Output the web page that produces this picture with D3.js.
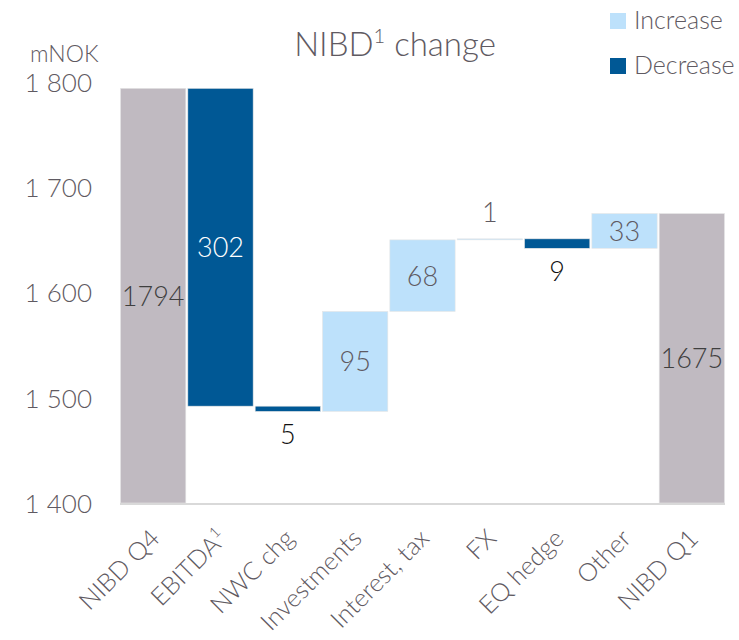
<!DOCTYPE html>
<html>
<head>
<meta charset="utf-8">
<script src="https://cdn.jsdelivr.net/npm/d3@7"></script>
<style>
  body { margin: 0; background: #fff; }
  text { font-family: "Lato", "Open Sans", sans-serif; font-weight: 300; }
</style>
</head>
<body>
<div id="chart"></div>
<script>
// waterfall data
const categories = ["NIBD Q4", "EBITDA", "NWC chg", "Investments", "Interest, tax", "FX", "EQ hedge", "Other", "NIBD Q1"];
const changes = [1794, -302, -5, 95, 68, 1, -9, 33, 1675];
const kinds = ["total", "dec", "dec", "inc", "inc", "inc", "dec", "inc", "total"];
const yTicks = [1400, 1500, 1600, 1700, 1800];
const legendItems = ["Increase", "Decrease"];

const width = 739, height = 640;
const colors = { total: "#c0bac1", dec: "#005895", inc: "#bde1fb" };
const textGray = "#5f5a62";

// build start / end of every bar
let running = 0;
const bars = categories.map((c, i) => {
    let start, end;
    if (kinds[i] === "total") {
        start = 1400; end = changes[i]; running = changes[i];
    } else {
        start = running; end = running + changes[i]; running = end;
    }
    return { cat: c, value: changes[i], kind: kinds[i], start: start, end: end };
});

const svg = d3.select("#chart")
    .append("svg")
    .attr("width", width)
    .attr("height", height);

const x = d3.scaleBand().domain(categories).range([120.5, 724.5]).paddingInner(0.03);
const y = d3.scaleLinear().domain([1400, 1800]).range([503, 82]);

// y axis labels
const yAxis = svg.append("g")
    .attr("transform", "translate(100,0)")
    .call(d3.axisLeft(y).tickValues(yTicks).tickSize(0).tickFormat(d => d3.format(",")(d).replace(",", " ")));
yAxis.select(".domain").remove();
yAxis.selectAll("text")
    .attr("x", -8)
    .attr("dy", "0.36em")
    .style("font-size", "26px")
    .style("font-family", "Lato, sans-serif")
    .attr("fill", textGray);

svg.append("text")
    .attr("x", 30).attr("y", 62)
    .text("mNOK")
    .style("font-size", "23px")
    .attr("fill", textGray);

// bars
svg.append("g")
    .selectAll("rect")
    .data(bars)
    .enter().append("rect")
    .attr("x", d => x(d.cat))
    .attr("width", x.bandwidth())
    .attr("y", d => y(Math.max(d.start, d.end)))
    .attr("height", d => Math.max(1, Math.abs(y(d.start) - y(d.end))))
    .attr("fill", d => colors[d.kind])
    .attr("stroke", "#e6e6e6")
    .attr("stroke-width", 0.6);

// baseline
svg.append("line")
    .attr("x1", 120).attr("x2", 725)
    .attr("y1", 504).attr("y2", 504)
    .attr("stroke", "#d9d9d9")
    .attr("stroke-width", 2);

// value labels
svg.append("g")
    .selectAll("text")
    .data(bars)
    .enter().append("text")
    .attr("x", d => x(d.cat) + x.bandwidth() / 2)
    .attr("y", d => {
        const top = y(Math.max(d.start, d.end)), bot = y(Math.min(d.start, d.end));
        if (d.kind === "dec" && Math.abs(d.value) < 20) return bot + 33;
        if (d.kind === "inc" && Math.abs(d.value) < 20) return top - 17;
        return (top + bot) / 2 + 10;
    })
    .attr("text-anchor", "middle")
    .style("font-size", "27px")
    .attr("fill", d => {
        if (d.kind === "total") return "#3f3f3f";
        if (d.kind === "dec") return Math.abs(d.value) < 20 ? "#111" : "#fff";
        return textGray;
    })
    .text(d => Math.abs(d.value));

// x axis labels, rotated
const xAxis = svg.append("g")
    .attr("transform", "translate(0,504)")
    .call(d3.axisBottom(x).tickSize(0));
xAxis.select(".domain").remove();
xAxis.selectAll("text")
    .attr("text-anchor", "end")
    .attr("y", 0)
    .attr("dy", 0)
    .attr("transform", "translate(8,36) rotate(-45)")
    .style("font-size", "25px")
    .style("font-family", "Lato, sans-serif")
    .attr("fill", textGray)
    .each(function (d) {
        if (d === "EBITDA") {
            d3.select(this).append("tspan").attr("dy", -10).style("font-size", "15px").text("1");
        }
    });

// title
const title = svg.append("text")
    .attr("x", 395).attr("y", 56)
    .attr("text-anchor", "middle")
    .style("font-size", "33px")
    .attr("fill", textGray);
title.append("tspan").text("NIBD");
title.append("tspan").attr("dy", -13).style("font-size", "20px").text("1");
title.append("tspan").attr("dy", 13).text(" change");

// legend
const legend = svg.append("g")
    .selectAll("g")
    .data(legendItems)
    .enter().append("g")
    .attr("transform", (d, i) => "translate(610," + (13 + i * 45) + ")");
legend.append("rect")
    .attr("width", 16).attr("height", 16)
    .attr("fill", (d, i) => i === 0 ? colors.inc : colors.dec);
legend.append("text")
    .attr("x", 24).attr("y", 16)
    .style("font-size", "25px")
    .attr("fill", textGray)
    .text(d => d);
</script>
</body>
</html>
